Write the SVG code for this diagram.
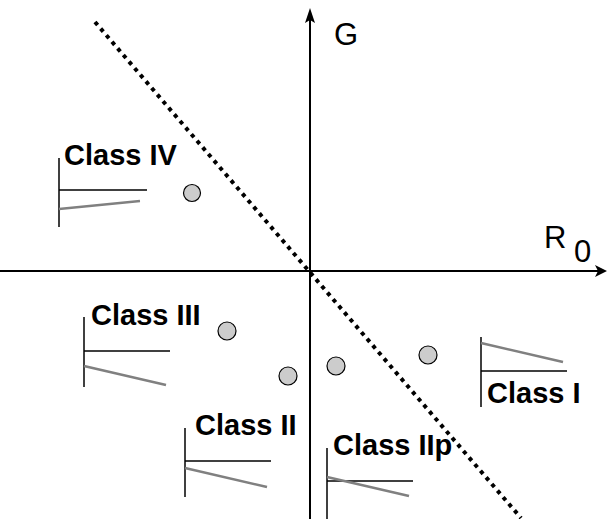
<svg xmlns="http://www.w3.org/2000/svg" width="607" height="519" viewBox="0 0 607 519">
<style>
.lbl{font-family:"Liberation Sans",Arial,sans-serif;font-weight:bold;font-size:29px;fill:#000}
.ax{font-family:"Liberation Sans",Arial,sans-serif;font-size:31px;fill:#000}
.bk{stroke:#000;stroke-width:1.5;fill:none}
.gr{stroke:#808080;stroke-width:2.5;fill:none}
.pt{fill:#cccccc;stroke:#000;stroke-width:1.2}
</style>
<rect width="607" height="519" fill="#fff"/>
<g id="connectors">
<line x1="0" y1="271" x2="598" y2="271" stroke="#000" stroke-width="2"/>
<path d="M607,271 L595,265 L598,271 L595,277 Z" fill="#000"/>
<line x1="310" y1="519" x2="310" y2="20" stroke="#000" stroke-width="2"/>
<path d="M310,8 L305,23 L310,20 L315,23 Z" fill="#000"/>
<line x1="95" y1="22" x2="521" y2="518" stroke="#000" stroke-width="4" stroke-dasharray="4 4.7"/>
</g>
<g id="axis-labels">
<text class="ax" x="334" y="45">G</text>
<text class="ax" x="544" y="248">R<tspan x="574" y="262">0</tspan></text>
</g>
<g id="class-iv">
<text class="lbl" x="64" y="165">Class IV</text>
<line class="bk" x1="59" y1="158" x2="59" y2="227"/>
<line class="bk" x1="59" y1="190" x2="147" y2="190"/>
<line class="gr" x1="59" y1="209" x2="140" y2="201"/>
<circle class="pt" cx="192" cy="193" r="8.5"/>
</g>
<g id="class-iii">
<text class="lbl" x="91" y="325">Class III</text>
<line class="bk" x1="84" y1="317" x2="84" y2="387"/>
<line class="bk" x1="84" y1="351" x2="170" y2="351"/>
<line class="gr" x1="84" y1="366" x2="166" y2="385"/>
<circle class="pt" cx="227" cy="331" r="9"/>
</g>
<g id="class-ii">
<text class="lbl" x="195" y="435">Class II</text>
<line class="bk" x1="185" y1="428" x2="185" y2="497"/>
<line class="bk" x1="185" y1="461" x2="271" y2="461"/>
<line class="gr" x1="185" y1="468" x2="267" y2="487"/>
<circle class="pt" cx="288" cy="376" r="9"/>
</g>
<g id="class-iip">
<text class="lbl" x="333" y="455">Class IIp</text>
<line class="bk" x1="327" y1="448" x2="327" y2="519"/>
<line class="bk" x1="327" y1="481" x2="413" y2="481"/>
<line class="gr" x1="327" y1="477" x2="409" y2="496"/>
<circle class="pt" cx="336" cy="366" r="9"/>
</g>
<g id="class-i">
<text class="lbl" x="487" y="403">Class I</text>
<line class="bk" x1="481" y1="337" x2="481" y2="407"/>
<line class="gr" x1="481" y1="343" x2="563" y2="362"/>
<line class="bk" x1="481" y1="371" x2="567" y2="371"/>
<circle class="pt" cx="428" cy="355" r="9"/>
</g>
</svg>
